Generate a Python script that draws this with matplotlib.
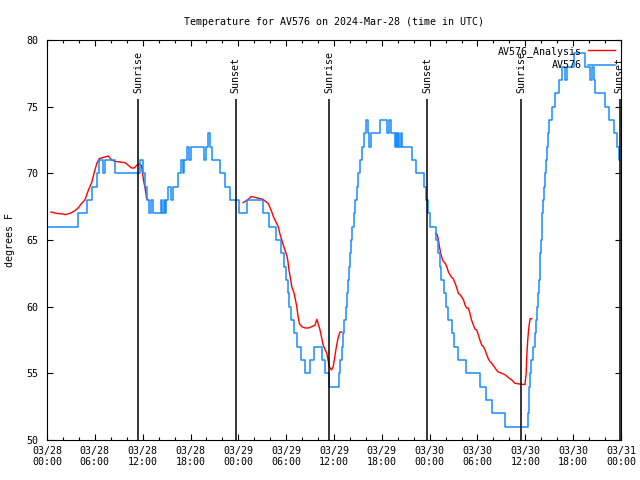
import numpy as np
import matplotlib
matplotlib.use("Agg")
import matplotlib.pyplot as plt

# hours since 03/28 00:00 UTC
obs_hours = [0, 3.9, 5.0, 5.6, 6.25, 6.55, 7.05, 7.25, 8.5, 11.65, 12.05, 12.25, 12.55, 12.85,
             13.1, 13.35, 14.3, 14.45, 14.65, 14.8, 14.95, 15.15, 15.5, 15.75, 16.4, 16.85,
             17.0, 17.2, 17.6, 17.85, 18.05, 19.65, 19.95, 20.25, 20.5, 20.7, 21.7, 22.3,
             22.9, 24.1, 25.1, 27.1, 27.9, 28.75, 29.4, 29.75, 29.95, 30.2, 30.4, 30.6, 31.0,
             31.4, 31.9, 32.4, 32.95, 33.5, 34.45, 34.85, 35.4, 36.6, 36.8, 36.95, 37.1, 37.3,
             37.45, 37.6, 37.7, 37.85, 38.0, 38.15, 38.3, 38.45, 38.65, 38.85, 39.05, 39.25,
             39.55, 39.8, 40.05, 40.25, 40.45, 40.7, 41.75, 42.7, 42.95, 43.2, 43.6, 43.75,
             43.9, 44.05, 44.2, 44.35, 44.5, 45.75, 46.3, 47.3, 47.6, 47.8, 48.0, 48.85, 49.1,
             49.25, 49.45, 49.75, 50.0, 50.3, 50.75, 51.1, 51.6, 52.6, 54.3, 55.1, 55.85,
             57.45, 60.3, 60.4, 60.5, 60.6, 60.75, 60.95, 61.15, 61.4, 61.5, 61.6, 61.7,
             61.78, 61.85, 61.95, 62.05, 62.15, 62.25, 62.35, 62.45, 62.55, 62.7, 62.85, 63.0,
             63.35, 63.7, 64.2, 64.6, 64.95, 65.25, 66.1, 67.45, 68.1, 68.3, 68.6, 68.8, 70.0,
             70.45, 71.1, 71.5, 71.7, 71.9]
obs_temps = [66, 67, 68, 69, 70, 71, 70, 71, 70, 71, 70, 69, 68, 67,
             68, 67, 68, 67, 68, 67, 68, 69, 68, 69, 70, 71,
             70, 71, 72, 71, 72, 71, 72, 73, 72, 71, 70, 69,
             68, 67, 68, 67, 66, 65, 64, 63, 62, 61, 60, 59, 58,
             57, 56, 55, 56, 57, 56, 55, 54, 55, 56, 57, 58, 59,
             60, 61, 62, 63, 64, 65, 66, 67, 68, 69, 70, 71,
             72, 73, 74, 73, 72, 73, 74, 73, 74, 73, 72, 73,
             72, 73, 72, 73, 72, 71, 70, 69, 68, 67, 66, 65, 64,
             63, 62, 61, 60, 59, 58, 57, 56, 55, 54, 53, 52,
             51, 52, 53, 54, 55, 56, 57, 58, 59, 60, 61, 62,
             63, 64, 65, 66, 67, 68, 69, 70, 71, 72, 73, 74,
             75, 76, 77, 78, 77, 78, 79, 78, 77, 78, 77, 76, 75,
             74, 73, 72, 71, 71]

nan = np.nan
ana_hours = [0.5, 1.2, 2.0, 2.3, 2.9, 3.5, 3.9, 4.35, 4.75, 5.2, 5.6, 5.9, 6.25, 6.55, 7.1,
             7.7, 8.1, 8.5, 9.8, 10.2, 10.6, 10.95, 11.25, 11.55, 11.85, 12.1, 12.3, 12.5,
             12.7, nan,
             24.6, 25.25, 25.6, 26.1, 26.7, 27.1, 27.4, 27.75, 28.2, 28.4, 28.6, 29.0, 29.2,
             29.45, 29.65, 30.05, 30.2, 30.35, 30.5, 30.7, 31.0, 31.3, 31.5, 31.65, 31.95,
             32.4, 32.8, 33.2, 33.6, 33.85, 34.25, 34.65, 35.1, 35.4, 35.7, 35.9, 36.1, 36.3,
             36.55, 36.75, 36.95, nan,
             48.75, 48.95, 49.1, 49.2, 49.35, 49.5, 49.7, 49.95, 50.15, 50.35, 50.55, 50.75,
             50.95, 51.2, 51.4, 51.6, 51.8, 52.0, 52.25, 52.45, 52.65, 52.85, 53.05, 53.25,
             53.5, 53.7, 53.9, 54.1, 54.3, 54.55, 54.75, 54.95, 55.15, 55.35, 55.55, 55.8,
             56.2, 56.6, 57.05, 57.45, 57.85, 58.3, 58.7, 59.3, 59.95, 60.1, 60.2, 60.3,
             60.45, 60.6, 60.8]
ana_temps = [67.1, 67.0, 66.95, 66.9, 67.0, 67.2, 67.4, 67.75, 68.0, 68.75, 69.3, 70.0, 70.75,
             71.1, 71.2, 71.3, 71.0, 70.9, 70.8, 70.6, 70.4, 70.4, 70.6, 70.7, 70.6, 69.5,
             68.9, 68.1, 68.0, nan,
             67.8, 68.05, 68.25, 68.2, 68.1, 68.05, 67.9, 67.75, 67.1, 66.75, 66.5, 66.0, 65.5,
             65.0, 64.6, 63.9, 63.5, 62.75, 62.25, 61.5, 61.0, 60.1, 59.25, 58.75, 58.5,
             58.4, 58.4, 58.5, 58.6, 59.05, 58.25, 57.1, 56.5, 55.5, 55.25, 55.5, 56.25, 57.0,
             57.75, 58.1, 58.1, nan,
             65.5, 65.4, 65.0, 64.6, 64.1, 63.75, 63.4, 63.25, 63.0, 62.6, 62.4, 62.2,
             62.1, 61.75, 61.4, 61.0, 60.9, 60.75, 60.5, 60.1, 59.9, 59.9, 59.5, 59.0,
             58.6, 58.3, 58.25, 57.9, 57.5, 57.1, 57.0, 56.75, 56.4, 56.1, 55.9, 55.75,
             55.4, 55.1, 55.0, 54.9, 54.7, 54.5, 54.25, 54.2, 54.15, 55.0, 56.5, 57.5,
             58.5, 59.1, 59.1]

sun_hours = [11.45, 23.67, 35.42, 47.7, 59.5, 71.85]
sun_names = ["Sunrise", "Sunset", "Sunrise", "Sunset", "Sunrise", "Sunset"]

tick_hours = list(range(0, 73, 6))
tick_labels = ["03/28\n00:00", "03/28\n06:00", "03/28\n12:00", "03/28\n18:00",
               "03/29\n00:00", "03/29\n06:00", "03/29\n12:00", "03/29\n18:00",
               "03/30\n00:00", "03/30\n06:00", "03/30\n12:00", "03/30\n18:00",
               "03/31\n00:00"]

plt.rcParams['font.family'] = ['DejaVu Sans Mono']
plt.rcParams['font.size'] = 7.2

fig = plt.figure(figsize=(6.4, 4.8), dpi=100)
ax = fig.add_axes([47 / 640, 40 / 480, 574 / 640, 400 / 480])

ax.plot(ana_hours, ana_temps, color='#ff0000', lw=1.0, label='AV576_Analysis')
ax.plot(obs_hours, obs_temps, color='#1a8cff', lw=1.1, drawstyle='steps-post', label='AV576')

for h, name in zip(sun_hours, sun_names):
    ax.vlines(h, 50, 75.6, color='black', lw=1.1)
    ax.text(h, 76.05, name, rotation=90, ha='center', va='bottom')

ax.set_xlim(0, 72)
ax.set_ylim(50, 80)
ax.set_xticks(tick_hours)
ax.set_xticklabels(tick_labels)
ax.set_xticks(range(0, 73, 2), minor=True)
ax.set_yticks(range(50, 81, 5))
ax.tick_params(which='both', direction='in', top=True, right=True, width=0.8)
ax.tick_params(which='major', length=4)
ax.tick_params(which='minor', length=2)
ax.tick_params(axis='y', pad=6)
ax.tick_params(axis='x', pad=4)
for s in ax.spines.values():
    s.set_linewidth(0.8)

ax.set_title('Temperature for AV576 on 2024-Mar-28 (time in UTC)', pad=11, fontsize=7.2)
fig.text(10 / 640, 0.5, 'degrees F', rotation=90, ha='center', va='center')

ax.legend(loc='upper right', frameon=False, markerfirst=False, handlelength=2.7,
          borderaxespad=0.1, labelspacing=0.35, handletextpad=0.6, borderpad=0.5)

fig.savefig('out.png', dpi=100)
